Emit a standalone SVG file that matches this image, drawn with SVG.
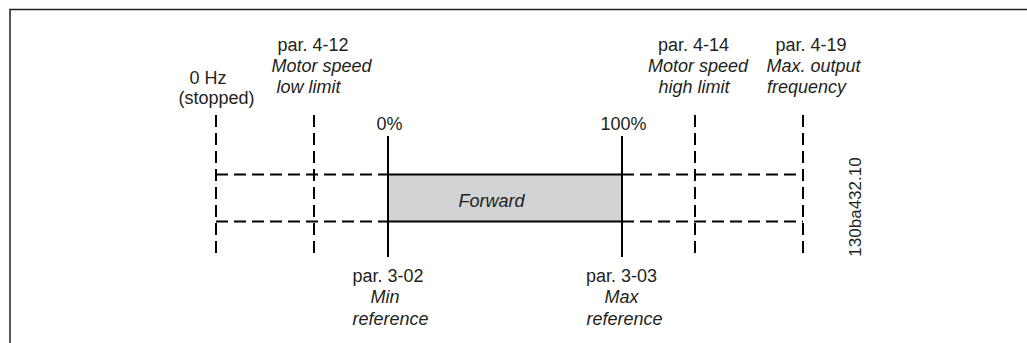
<svg xmlns="http://www.w3.org/2000/svg" width="1027" height="343" viewBox="0 0 1027 343">
<style>
text{font-family:"Liberation Sans",Arial,sans-serif;font-size:18px;fill:#231f20}
.i{font-style:italic}
.d{stroke:#000;stroke-width:2;stroke-dasharray:12 6;fill:none}
.s{stroke:#000;stroke-width:2;fill:none}
.f{stroke:#231f20;stroke-width:1.5;fill:none}
</style>
<rect width="1027" height="343" fill="#fff"/>
<g id="frame"><path class="f" d="M10,343V9.5H1027"/></g>
<g id="forward-band">
<rect x="388" y="174.5" width="234" height="47" fill="#d1d3d4"/>
<text class="i" x="491.5" y="207" text-anchor="middle">Forward</text>
</g>
<g id="connectors">
<path class="d" d="M216,115V257M314,115V257M695,115V257M803,115V257"/>
<path class="d" d="M216,174.5H388M622,174.5H803M216,221.5H388M622,221.5H803"/>
<path class="s" d="M388,136V257M622,136V257M388,174.5H622M388,221.5H622"/>
</g>
<g id="n-0hz">
<text x="208" y="84" text-anchor="middle">0 Hz</text>
<text x="216.5" y="104" text-anchor="middle">(stopped)</text>
</g>
<g id="n-412">
<text x="313" y="51" text-anchor="middle">par. 4-12</text>
<text class="i" x="321.5" y="72" text-anchor="middle">Motor speed</text>
<text class="i" x="308.5" y="93" text-anchor="middle">low limit</text>
</g>
<g id="n-0pct"><text x="389.5" y="130" text-anchor="middle">0%</text></g>
<g id="n-100pct"><text x="623.5" y="130" text-anchor="middle">100%</text></g>
<g id="n-414">
<text x="693.5" y="51" text-anchor="middle">par. 4-14</text>
<text class="i" x="698" y="72" text-anchor="middle">Motor speed</text>
<text class="i" x="694" y="93" text-anchor="middle">high limit</text>
</g>
<g id="n-419">
<text x="811" y="51" text-anchor="middle">par. 4-19</text>
<text class="i" x="813.5" y="72" text-anchor="middle">Max. output</text>
<text class="i" x="806.5" y="93" text-anchor="middle">frequency</text>
</g>
<g id="n-302">
<text x="388" y="282" text-anchor="middle">par. 3-02</text>
<text class="i" x="385" y="303" text-anchor="middle">Min</text>
<text class="i" x="390.5" y="325" text-anchor="middle">reference</text>
</g>
<g id="n-303">
<text x="621.5" y="282" text-anchor="middle">par. 3-03</text>
<text class="i" x="621.5" y="303" text-anchor="middle">Max</text>
<text class="i" x="624.5" y="325" text-anchor="middle">reference</text>
</g>
<g id="code"><text transform="translate(861,207) rotate(-90)" text-anchor="middle" style="font-size:17px">130ba432.10</text></g>
</svg>
